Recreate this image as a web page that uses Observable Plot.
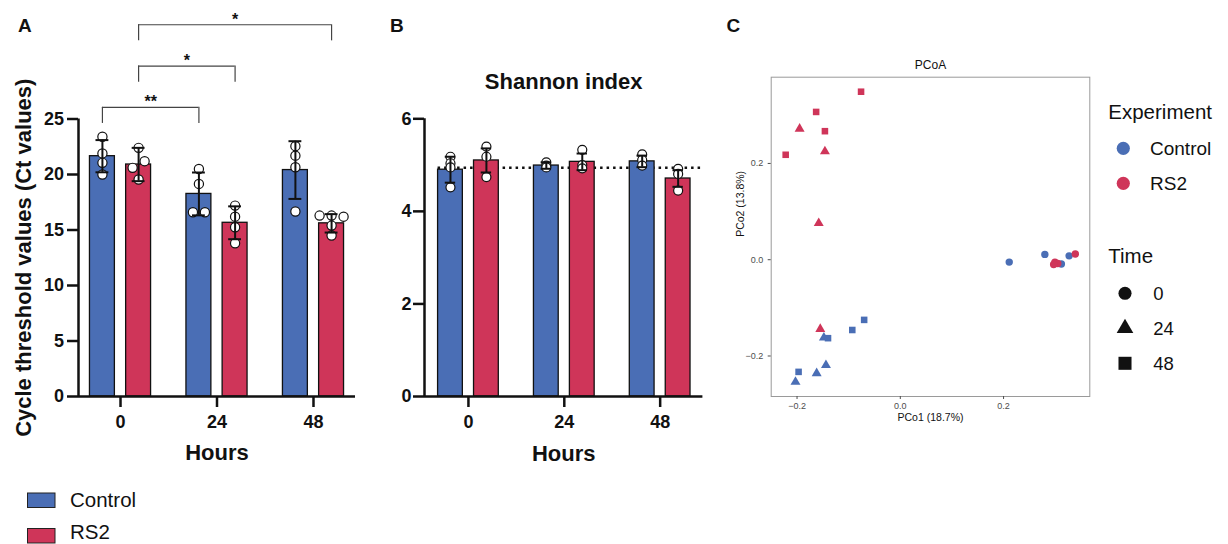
<!DOCTYPE html>
<html><head><meta charset="utf-8">
<script src="https://cdn.jsdelivr.net/npm/d3@7"></script>
<script src="https://cdn.jsdelivr.net/npm/@observablehq/plot@0.6"></script>
<style>
body{margin:0;background:#fff;}
#root{position:relative;width:1228px;height:544px;overflow:hidden;background:#fff;}
.abs{position:absolute;}
</style></head><body><div id="root"></div>
<script>
// ---------------- data ----------------
const hours = [0, 24, 48];
const groups = ["Control", "RS2"];
const palette = ["#4A6EB5", "#CF3559"];

// Panel A: cycle threshold values
const ctMeanControl = [21.65, 18.25, 20.4];
const ctMeanRS2 = [20.9, 15.65, 15.6];
const ctSdControl = [1.45, 1.93, 2.6];
const ctSdRS2 = [1.5, 1.48, 0.83];
const ctPointsControl = [[23.4, 21.9, 21.05, 20.0], [20.5, 19.15, 16.6, 16.6], [22.55, 21.7, 20.65, 16.67]];
const ctPointsRS2 = [[22.4, 21.2, 20.6, 19.55], [17.2, 16.2, 15.25, 13.8], [16.3, 16.3, 16.2, 15.4, 14.5]];
const ctTicks = [0, 5, 10, 15, 20, 25];
const sigLeftGroup = ["Control", "RS2", "RS2"];
const sigLeftHour = [0, 0, 0];
const sigRightGroup = ["Control", "RS2", "RS2"];
const sigRightHour = [24, 24, 48];
const sigLabels = ["**", "*", "*"];

// Panel B: Shannon index
const shMeanControl = [4.9, 4.99, 5.08];
const shMeanRS2 = [5.1, 5.07, 4.71];
const shSdControl = [0.28, 0.07, 0.125];
const shSdRS2 = [0.26, 0.18, 0.18];
const shPointsControl = [[5.18, 5.04, 4.95, 4.52], [5.06, 4.99, 4.95], [5.23, 5.11, 4.99]];
const shPointsRS2 = [[5.40, 5.18, 4.74], [5.33, 5.0, 4.93], [4.92, 4.81, 4.45]];
const shTicks = [0, 2, 4, 6];
const shReference = 4.94;

// Panel C: PCoA
const pco1 = [0.211, 0.280, 0.312, 0.327,   0.339, 0.2995, 0.305, 0.297,
              -0.148, -0.144, -0.162, -0.203,  -0.195, -0.146, -0.158, -0.155,
              -0.070, -0.093, -0.140, -0.197,  -0.076, -0.163, -0.146, -0.222];
const pco2 = [-0.005, 0.011, -0.009, 0.008,  0.012, -0.005, -0.008, -0.010,
              -0.162, -0.219, -0.236, -0.254,  0.272, 0.225, 0.076, -0.144,
              -0.125, -0.146, -0.163, -0.233,  0.349, 0.307, 0.267, 0.218];
const pcoaExperiment = ["Control","Control","Control","Control","RS2","RS2","RS2","RS2",
                        "Control","Control","Control","Control","RS2","RS2","RS2","RS2",
                        "Control","Control","Control","Control","RS2","RS2","RS2","RS2"];
const pcoaTime = ["0","0","0","0","0","0","0","0","24","24","24","24","24","24","24","24",
                  "48","48","48","48","48","48","48","48"];
const timeLevels = ["0", "24", "48"];
const timeSymbols = ["circle", "triangle", "square"];
const pcoaTicks = [-0.2, 0, 0.2];

// ---------------- layout helpers ----------------
const FONT = '"Liberation Sans", Arial, Helvetica, sans-serif';
const OFF = 4.5, HALF = 3.1, CAP = 1.6;
const root = document.getElementById("root");
function place(node, left, top) {
  const d = document.createElement("div");
  d.className = "abs"; d.style.left = left + "px"; d.style.top = top + "px";
  d.appendChild(node); root.appendChild(d);
}
function barRows(mC, mR, sC, sR) {
  return hours.flatMap((h, i) => [
    {hour: h, group: "Control", mean: mC[i], sd: sC[i], xc: h - OFF},
    {hour: h, group: "RS2", mean: mR[i], sd: sR[i], xc: h + OFF}]);
}
function pointRows(pC, pR) {
  return hours.flatMap((h, i) => [
    ...pC[i].map(v => ({hour: h, group: "Control", v, xc: h - OFF})),
    ...pR[i].map(v => ({hour: h, group: "RS2", v, xc: h + OFF}))]);
}
function dodge(rows, pxX, pxY, r) {
  const out = [];
  for (const grp of d3.group(rows, d => d.group + "|" + d.hour).values()) {
    const placed = [];
    for (const p of grp) {
      const py = p.v * pxY;
      let chosen = 0;
      for (const o of [0, -6, 6, -12, 12]) {
        if (placed.every(q => Math.hypot(q.off - o, q.py - py) >= 2 * r)) { chosen = o; break; }
      }
      placed.push({p, off: chosen, py});
    }
    const sorted = placed.slice().sort((a, b) => a.py - b.py);
    let cluster = [sorted[0]];
    const flush = () => {
      if (cluster.length > 1) {
        const m = d3.mean(cluster, c => c.off);
        cluster.forEach(c => c.off -= m);
      }
    };
    for (let i = 1; i < sorted.length; i++) {
      if (sorted[i].py - sorted[i - 1].py < 2 * r) cluster.push(sorted[i]);
      else { flush(); cluster = [sorted[i]]; }
    }
    flush();
    for (const q of placed) out.push({...q.p, x: q.p.xc + q.off / pxX});
  }
  return out;
}
function barPanel(cfg) {
  const {rows, pts, ticks, xDomain, yDomain, width, height, ml, mr, mt, mb, tickPad, extra, r, capHalf} = cfg;
  const yTop = ticks[ticks.length - 1];
  const caps = rows.flatMap(d => [{...d, yy: d.mean - d.sd}, {...d, yy: d.mean + d.sd}]);
  return Plot.plot({
    width, height, marginLeft: ml, marginRight: mr, marginTop: mt, marginBottom: mb,
    style: {fontFamily: FONT, fontWeight: "bold", fontSize: "18px", overflow: "visible", background: "transparent", color: "#111"},
    x: {domain: xDomain, axis: null},
    y: {domain: yDomain, axis: null},
    color: {domain: groups, range: palette},
    marks: [
      ...(cfg.before || []),
      Plot.rectY(rows, {x1: d => d.xc - HALF, x2: d => d.xc + HALF, y1: 0, y2: "mean", fill: "group", stroke: "#111", strokeWidth: 1.3}),
      Plot.dot(pts, {x: "x", y: "v", r, fill: "white", stroke: "#111", strokeWidth: 1.2}),
      Plot.ruleX(rows, {x: "xc", y1: d => d.mean - d.sd, y2: d => d.mean + d.sd, stroke: "#111", strokeWidth: 2}),
      Plot.ruleY(caps, {y: "yy", x1: d => d.xc - capHalf, x2: d => d.xc + capHalf, stroke: "#111", strokeWidth: 2}),
      Plot.ruleX([xDomain[0]], {y1: 0, y2: yTop, stroke: "#111", strokeWidth: 2.5}),
      Plot.ruleY([0], {x1: xDomain[0], x2: xDomain[1], stroke: "#111", strokeWidth: 2.5}),
      Plot.axisY({ticks, tickFormat: d => String(d), tickSize: 11, tickPadding: tickPad, strokeWidth: 2.5, label: null, fontSize: 18, fontWeight: "bold"}),
      Plot.axisX({ticks: hours, tickFormat: d => String(d), tickSize: 11, tickPadding: 8, strokeWidth: 2.5, label: null, fontSize: 18, fontWeight: "bold"}),
      Plot.text(["Hours"], {text: d => d, frameAnchor: "bottom", dy: cfg.hoursDy, lineAnchor: "bottom", fontSize: 22, fontWeight: "bold"}),
      ...(extra || [])
    ]
  });
}

// ---------------- Panel A ----------------
{
  const L = {width: 370, height: 470, ml: 78, mr: 15, mt: 7.5, mb: 74, xDomain: [-10.45, 58.45], yDomain: [0, 35]};
  const pxX = (L.width - L.ml - L.mr) / (L.xDomain[1] - L.xDomain[0]);
  const pxY = (L.height - L.mt - L.mb) / (L.yDomain[1] - L.yDomain[0]);
  const rows = barRows(ctMeanControl, ctMeanRS2, ctSdControl, ctSdRS2);
  const pts = dodge(pointRows(ctPointsControl, ctPointsRS2), pxX, pxY, 4.6);
  const topErr = d3.max(rows, d => d.mean + d.sd);
  const xOf = (g, h) => h + (g === "Control" ? -OFF : OFF);
  const brackets = sigLabels.map((lab, i) => ({
    label: lab, xa: xOf(sigLeftGroup[i], sigLeftHour[i]), xb: xOf(sigRightGroup[i], sigRightHour[i]),
    y: topErr + 2.95 + i * 3.72
  }));
  const drop = 1.45;
  const legs = brackets.flatMap(b => [{x: b.xa, y: b.y}, {x: b.xb, y: b.y}]);
  const svg = barPanel({...L, rows, pts, ticks: ctTicks, tickPad: 3.5, r: 4.6, capHalf: CAP, hoursDy: 63.3,
    extra: [
      Plot.ruleY(brackets, {y: "y", x1: "xa", x2: "xb", stroke: "#444", strokeWidth: 1.2}),
      Plot.ruleX(legs, {x: "x", y1: d => d.y - drop, y2: "y", stroke: "#444", strokeWidth: 1.2}),
      Plot.text(brackets, {x: d => (d.xa + d.xb) / 2, y: "y", text: "label", lineAnchor: "bottom", fontSize: 16, fontWeight: "bold"}),
      Plot.text(["Cycle threshold values (Ct values)"], {text: d => d, x: L.xDomain[0], y: (ctTicks[0] + ctTicks[ctTicks.length - 1]) / 2,
        dx: -55, rotate: -90, fontSize: 22, fontWeight: "bold"})
    ]});
  place(svg, 0, 0);
}

// ---------------- Panel B ----------------
{
  const L = {width: 340, height: 470, ml: 44, mr: 17.6, mt: 118.3, mb: 74, xDomain: [-11, 58.7], yDomain: [0, 6]};
  const rows = barRows(shMeanControl, shMeanRS2, shSdControl, shSdRS2);
  const pts = pointRows(shPointsControl, shPointsRS2).map(d => ({...d, x: d.xc}));
  const svg = barPanel({...L, rows, pts, ticks: shTicks, tickPad: 2, r: 4.5, capHalf: 1.3, hoursDy: 64,
    before: [
      Plot.ruleY([shReference], {x1: hours[0] - OFF - HALF, x2: L.xDomain[1], stroke: "#111", strokeWidth: 2.5, strokeDasharray: "2.5,4"})
    ],
    extra: [
      Plot.text(["Shannon index"], {text: d => d, frameAnchor: "top", dy: -30, lineAnchor: "bottom", fontSize: 22, fontWeight: "bold"})
    ]});
  place(svg, 380, 0);
}

// ---------------- Panel C ----------------
{
  const pcoa = pco1.map((x, i) => ({x, y: pco2[i], exp: pcoaExperiment[i], time: pcoaTime[i]}));
  const ex = d3.extent(pco1), ey = d3.extent(pco2);
  const px = 0.05 * (ex[1] - ex[0]), py = 0.05 * (ey[1] - ey[0]);
  const fmt = d3.format(".1f");
  const svg = Plot.plot({
    width: 370, height: 390, marginLeft: 40.7, marginRight: 10.7, marginTop: 26.7, marginBottom: 44,
    style: {fontFamily: FONT, fontSize: "9px", overflow: "visible", background: "transparent", color: "#111"},
    x: {domain: [ex[0] - px, ex[1] + px], axis: null},
    y: {domain: [ey[0] - py, ey[1] + py], axis: null},
    color: {domain: groups, range: palette},
    symbol: {domain: timeLevels, range: timeSymbols},
    marks: [
      Plot.frame({stroke: "#9a9a9a", strokeWidth: 1}),
      Plot.axisX({ticks: pcoaTicks, tickFormat: fmt, tickSize: 3, tickPadding: 3, fontSize: 9, color: "#4d4d4d", label: null}),
      Plot.axisY({ticks: pcoaTicks, tickFormat: fmt, tickSize: 3, tickPadding: 5, fontSize: 9, color: "#4d4d4d", label: null}),
      Plot.dot(pcoa, {x: "x", y: "y", fill: "exp", symbol: "time", r: 3.7}),
      Plot.text(["PCoA"], {text: d => d, frameAnchor: "top", dy: -8, lineAnchor: "bottom", fontSize: 12}),
      Plot.text(["PCo1 (18.7%)"], {text: d => d, frameAnchor: "bottom", dy: 24, lineAnchor: "bottom", fontSize: 10.5}),
      Plot.text(["PCo2 (13.8%)"], {text: d => d, frameAnchor: "left", dx: -30.7, rotate: -90, fontSize: 10.5})
    ]
  });
  place(svg, 730, 50);
}

// ---------------- overlay: panel letters and legends ----------------
{
  const ov = d3.create("svg").attr("width", 1228).attr("height", 544)
    .style("position", "absolute").style("left", 0).style("top", 0)
    .style("font-family", FONT).style("pointer-events", "none");
  const letters = ["A", "B", "C"], letterX = [18, 390, 726.5];
  letters.forEach((t, i) => ov.append("text").attr("x", letterX[i]).attr("y", 32)
    .attr("font-size", 19).attr("font-weight", "bold").attr("fill", "#111").text(t));

  // bottom legend for A/B
  groups.forEach((g, i) => {
    ov.append("rect").attr("x", 27.5).attr("y", 493 + i * 35.5).attr("width", 27.5).attr("height", 14.5)
      .attr("fill", palette[i]).attr("stroke", "#222").attr("stroke-width", 1);
    ov.append("text").attr("x", 70).attr("y", 507.3 + i * 31.5).attr("font-size", 20.5).attr("fill", "#111").text(g);
  });

  // PCoA legend
  ov.append("text").attr("x", 1108.3).attr("y", 119.3).attr("font-size", 20.5).attr("fill", "#111").text("Experiment");
  groups.forEach((g, i) => {
    const cy = 148.3 + i * 35;
    ov.append("circle").attr("cx", 1123.3).attr("cy", cy).attr("r", 6.6).attr("fill", palette[i]);
    ov.append("text").attr("x", 1150).attr("y", cy + 6.9).attr("font-size", 19).attr("fill", "#111").text(g);
  });
  ov.append("text").attr("x", 1108.3).attr("y", 262.7).attr("font-size", 20.5).attr("fill", "#111").text("Time");
  const symMap = {circle: [d3.symbolCircle, 135], triangle: [d3.symbolTriangle, 120], square: [d3.symbolSquare, 170]};
  timeLevels.forEach((t, i) => {
    const cy = 293.3 + i * 35;
    const [type, size] = symMap[timeSymbols[i]];
    ov.append("path").attr("d", d3.symbol(type, size)()).attr("transform", `translate(1125,${cy})`).attr("fill", "#111");
    ov.append("text").attr("x", 1153.3).attr("y", cy + 6.3).attr("font-size", 18.5).attr("fill", "#111").text(t);
  });
  root.appendChild(ov.node());
}
</script>
</body></html>
